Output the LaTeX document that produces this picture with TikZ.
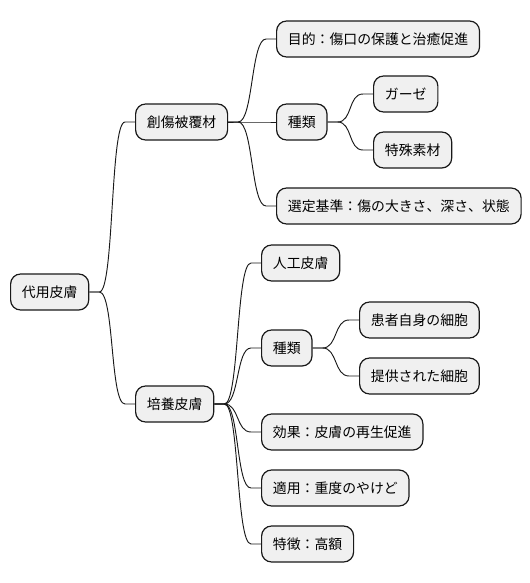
\documentclass[tikz,border=0pt]{standalone}
\usepackage{fontspec}
\newfontfamily\jpfont{Noto Sans CJK JP}
\usetikzlibrary{positioning}

\begin{document}
\begin{tikzpicture}[x=0.75pt,y=-0.75pt]

\tikzset{mind node/.style={
		draw=black!90,
		fill=black!6,
		line width=0.9pt,
		rounded corners=7.5pt,
		anchor=west,
		minimum height=27pt,
		inner xsep=8.5pt,
		inner ysep=0pt,
		font=\jpfont\fontsize{10.4}{12}\selectfont
	},
	branch/.style={
		draw=black!90,
		line width=0.7pt,
		to path={-- ++(10,0) .. controls +(15,0) and +(-15,0) .. ([xshift=-7.5pt]\tikztotarget) -- (\tikztotarget)}
	}
}
\useasboundingbox (0,0) rectangle (530,583);

% root
\node[mind node] (skin) at (10,292) {代用皮膚};

% first branch
\node[mind node] (dressing) at (135,122) {創傷被覆材};
\node[mind node] (purpose) at (276,39) {目的：傷口の保護と治癒促進};
\node[mind node] (kindsA) at (276,122) {種類};
\node[mind node] (gauze) at (373,94) {ガーゼ};
\node[mind node] (special) at (373,150) {特殊素材};
\node[mind node] (criteria) at (276,206) {選定基準：傷の大きさ、深さ、状態};

% second branch
\node[mind node] (cultured) at (135,404) {培養皮膚};
\node[mind node] (artificial) at (261,263) {人工皮膚};
\node[mind node] (kindsB) at (261,348) {種類};
\node[mind node] (own) at (359,320) {患者自身の細胞};
\node[mind node] (donor) at (359,376) {提供された細胞};
\node[mind node] (effect) at (261,432) {効果：皮膚の再生促進};
\node[mind node] (usage) at (261,488) {適用：重度のやけど};
\node[mind node] (feature) at (261,544) {特徴：高額};

\foreach \p/\c in {skin/dressing, skin/cultured,
	dressing/purpose, dressing/kindsA, dressing/criteria,
	kindsA/gauze, kindsA/special,
	cultured/artificial, cultured/kindsB, cultured/effect, cultured/usage, cultured/feature,
	kindsB/own, kindsB/donor}
	\draw[branch] (\p.east) to (\c.west);
\end{tikzpicture}
\end{document}
